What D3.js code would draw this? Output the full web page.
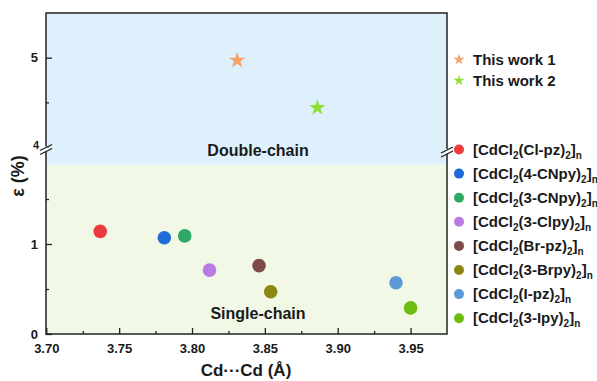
<!DOCTYPE html>
<html lang="en">
<head>
    <meta charset="UTF-8">
    <title>Cd...Cd vs strain</title>
    <style>
        body { margin: 0; background: #fff; }
        svg text { font-family: "Liberation Sans", Arial, sans-serif; font-weight: bold; fill: #1a1a1a; }
    </style>
</head>
<body>
    <svg id="chart" width="597" height="381"></svg>

    <script src="https://d3js.org/d3.v7.min.js"></script>
    <script>
        // data
        const compounds = ['[CdCl_2(Cl-pz)_2]_n', '[CdCl_2(4-CNpy)_2]_n', '[CdCl_2(3-CNpy)_2]_n', '[CdCl_2(3-Clpy)_2]_n',
                           '[CdCl_2(Br-pz)_2]_n', '[CdCl_2(3-Brpy)_2]_n', '[CdCl_2(I-pz)_2]_n', '[CdCl_2(3-Ipy)_2]_n'];
        const compoundCd = [3.737, 3.781, 3.795, 3.812, 3.846, 3.854, 3.940, 3.950];
        const compoundStrain = [1.14, 1.07, 1.09, 0.71, 0.76, 0.47, 0.57, 0.29];
        const compoundColors = ['#ec3a3d', '#1f6bd8', '#2da865', '#b97ae3', '#7b4a49', '#8c8712', '#5b9ad6', '#6cbd10'];

        const works = ['This work 1', 'This work 2'];
        const workCd = [3.831, 3.886];
        const workStrain = [4.97, 4.44];
        const workColors = ['#f5a266', '#90e03c'];

        const xTicks = [3.70, 3.75, 3.80, 3.85, 3.90, 3.95];
        const yLowTicks = [0, 1];
        const yHighTicks = [4, 5];

        const plotL = 46, plotR = 447, plotT = 13, plotB = 334;
        const svg = d3.select('#chart');

        const x = d3.scaleLinear().domain([3.70, 3.975]).range([46.3, plotR]);
        const yLow = d3.scaleLinear().domain([0, 2]).range([plotB, 154]);
        const yHigh = d3.scaleLinear().domain([4, 5.5]).range([147, plotT]);
        const splitY = yLow(1.88);

        // background regions
        svg.append('rect').attr('x', plotL).attr('y', plotT).attr('width', plotR - plotL).attr('height', splitY - plotT).attr('fill', '#def0fb');
        svg.append('rect').attr('x', plotL).attr('y', splitY).attr('width', plotR - plotL).attr('height', plotB - splitY).attr('fill', '#f1f9e6');

        // frame
        svg.append('rect').attr('x', plotL).attr('y', plotT).attr('width', plotR - plotL).attr('height', plotB - plotT)
            .attr('fill', 'none').attr('stroke', '#222').attr('stroke-width', 1.5);

        // x axis (inward ticks)
        const xAxis = svg.append('g').attr('transform', `translate(0,${plotB})`)
            .call(d3.axisBottom(x).tickValues(xTicks).tickFormat(d3.format('.2f')).tickSizeInner(-6).tickSizeOuter(0).tickPadding(10));
        xAxis.select('.domain').remove();
        xAxis.selectAll('line').attr('stroke', '#222').attr('stroke-width', 1.3);
        xAxis.selectAll('text').attr('font-size', 13).attr('fill', '#1a1a1a').attr('font-family', null);
        svg.append('g').attr('transform', `translate(0,${plotB})`)
            .call(d3.axisBottom(x).tickValues(xTicks.map(v => v + 0.025).filter(v => v < 3.975)).tickFormat('').tickSizeInner(-3).tickSizeOuter(0))
            .call(g => g.select('.domain').remove())
            .selectAll('line').attr('stroke', '#222').attr('stroke-width', 1.3);

        // y axis, lower segment
        const yl = svg.append('g').attr('transform', `translate(${plotL},0)`)
            .call(d3.axisLeft(yLow).tickValues(yLowTicks).tickFormat(d3.format('d')).tickSizeInner(-6).tickSizeOuter(0).tickPadding(8));
        yl.select('.domain').remove();
        yl.selectAll('line').attr('stroke', '#222').attr('stroke-width', 1.3);
        yl.selectAll('text').attr('font-size', 13).attr('fill', '#1a1a1a').attr('font-family', null);
        svg.append('g').attr('transform', `translate(${plotL},0)`)
            .call(d3.axisLeft(yLow).tickValues([0.5, 1.5]).tickFormat('').tickSizeInner(-3).tickSizeOuter(0))
            .call(g => g.select('.domain').remove())
            .selectAll('line').attr('stroke', '#222').attr('stroke-width', 1.3);

        // y axis, upper segment
        const yh = svg.append('g').attr('transform', `translate(${plotL},0)`)
            .call(d3.axisLeft(yHigh).tickValues(yHighTicks).tickFormat(d3.format('d')).tickSizeInner(-6).tickSizeOuter(0).tickPadding(8));
        yh.select('.domain').remove();
        yh.selectAll('line').attr('stroke', '#222').attr('stroke-width', 1.3);
        yh.selectAll('text').attr('font-size', 13).attr('fill', '#1a1a1a').attr('font-family', null);
        yh.selectAll('.tick').filter(d => d === 4).select('text').attr('font-size', 11).attr('x', -7).attr('dy', '0.1em');
        svg.append('g').attr('transform', `translate(${plotL},0)`)
            .call(d3.axisLeft(yHigh).tickValues([4.5]).tickFormat('').tickSizeInner(-3).tickSizeOuter(0))
            .call(g => g.select('.domain').remove())
            .selectAll('line').attr('stroke', '#222').attr('stroke-width', 1.3);

        // axis break marks
        function drawBreak(cx, cy) {
            const g = svg.append('g');
            g.append('polygon')
                .attr('points', [[cx - 6, cy + 4], [cx + 6, cy - 3], [cx + 6, cy - 1], [cx - 6, cy + 6]].join(' '))
                .attr('fill', '#fff');
            g.append('rect').attr('x', cx - 1.5).attr('y', cy - 2).attr('width', 3).attr('height', 4.5).attr('fill', '#fff');
            g.append('line').attr('x1', cx - 6).attr('y1', cy + 2).attr('x2', cx + 6).attr('y2', cy - 4)
                .attr('stroke', '#222').attr('stroke-width', 1.3);
            g.append('line').attr('x1', cx - 6).attr('y1', cy + 6).attr('x2', cx + 6).attr('y2', cy)
                .attr('stroke', '#222').attr('stroke-width', 1.3);
        }
        drawBreak(plotL, 148.5);
        drawBreak(plotR, 151);

        // region labels
        svg.append('text').attr('x', 258).attr('y', 156).attr('text-anchor', 'middle').attr('font-size', 16).text('Double-chain');
        svg.append('text').attr('x', 258).attr('y', 319).attr('text-anchor', 'middle').attr('font-size', 16).text('Single-chain');

        // points
        svg.append('g').selectAll('circle')
            .data(compounds.map((c, i) => ({ cd: compoundCd[i], e: compoundStrain[i], color: compoundColors[i] })))
            .join('circle')
            .attr('cx', d => x(d.cd)).attr('cy', d => yLow(d.e)).attr('r', 6.8)
            .attr('fill', d => d.color);

        const star = d3.symbol().type(d3.symbolStar);
        svg.append('g').selectAll('path')
            .data(works.map((w, i) => ({ cd: workCd[i], e: workStrain[i], color: workColors[i] })))
            .join('path')
            .attr('transform', d => `translate(${x(d.cd)},${yHigh(d.e)})`)
            .attr('d', star.size(85)())
            .attr('fill', d => d.color);

        // legend
        const legX = 459, textX = 473;
        works.forEach((w, i) => {
            const yy = 59.5 + i * 21;
            svg.append('path').attr('transform', `translate(${legX},${yy})`).attr('d', star.size(38)()).attr('fill', workColors[i]);
            svg.append('text').attr('x', textX).attr('y', yy).attr('dy', '0.35em').attr('font-size', 15).text(w);
        });

        compounds.forEach((c, i) => {
            const yy = 149.5 + i * 24.1;
            svg.append('circle').attr('cx', legX).attr('cy', yy).attr('r', 5).attr('fill', compoundColors[i]);
            const t = svg.append('text').attr('x', textX).attr('y', yy).attr('dy', '0.35em').attr('font-size', 15);
            // "_x" marks a one-character subscript
            const parts = c.split('_');
            t.append('tspan').text(parts[0]);
            parts.slice(1).forEach(p => {
                t.append('tspan').attr('font-size', 10).attr('dy', 4).text(p[0]);
                if (p.length > 1) t.append('tspan').attr('dy', -4).text(p.slice(1));
            });
        });

        // axis titles
        svg.append('text').attr('x', 246).attr('y', 376).attr('text-anchor', 'middle').attr('font-size', 17).text('Cd\u00b7\u00b7\u00b7Cd (\u00c5)');
        svg.append('text').attr('transform', 'translate(24,176) rotate(-90)').attr('text-anchor', 'middle').attr('font-size', 18).text('\u03b5 (%)');
    </script>
</body>
</html>
